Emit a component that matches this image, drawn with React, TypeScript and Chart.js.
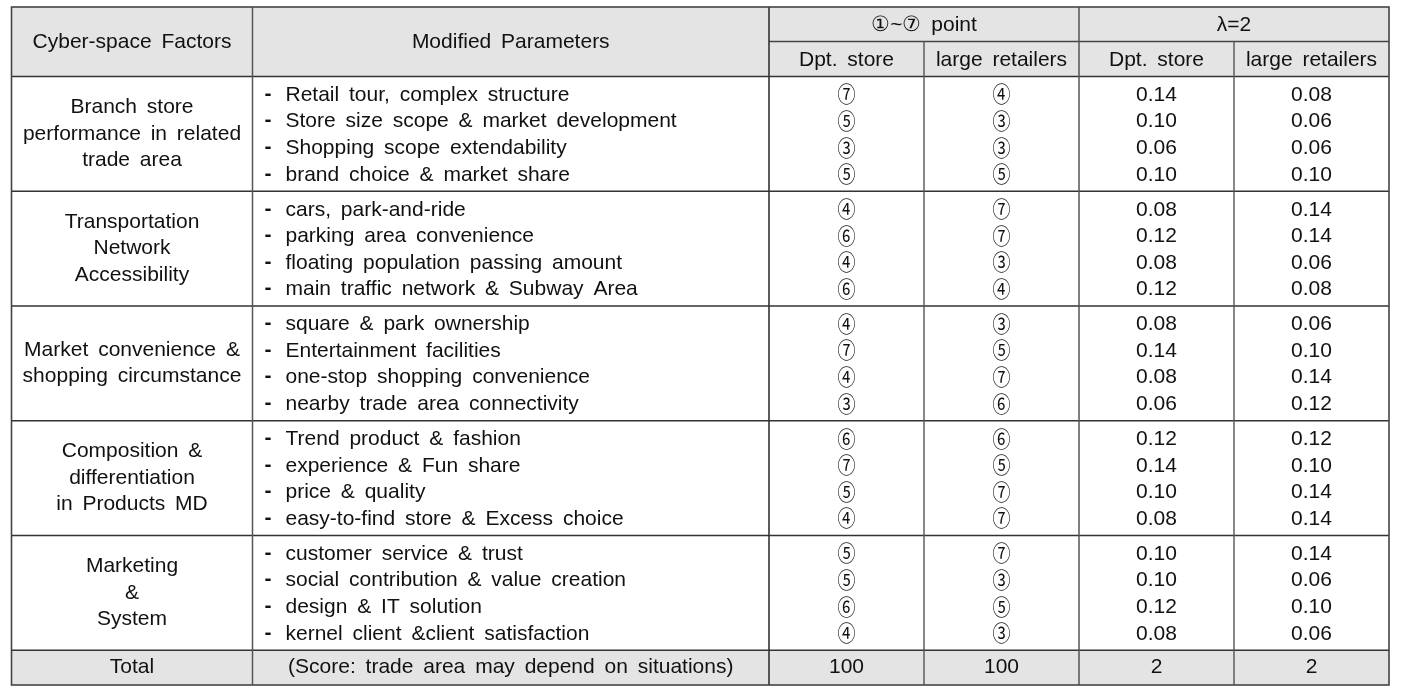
import React, { useEffect, useRef } from "react";
import { Chart, registerables } from "chart.js";

Chart.register(...registerables);

// ---------- data ----------
const headerTop = ["Cyber-space Factors", "Modified Parameters", "①~⑦ point", "λ=2"];
const subHeaders = ["Dpt. store", "large retailers", "Dpt. store", "large retailers"];
const factors = [
  ["Branch store", "performance in related", "trade area"],
  ["Transportation", "Network", "Accessibility"],
  ["Market convenience &", "shopping circumstance"],
  ["Composition &", "differentiation", "in Products MD"],
  ["Marketing", "&", "System"],
];
const parameters = [
  "Retail tour, complex structure",
  "Store size scope & market development",
  "Shopping scope extendability",
  "brand choice & market share",
  "cars, park-and-ride",
  "parking area convenience",
  "floating population passing amount",
  "main traffic network & Subway Area",
  "square & park ownership",
  "Entertainment facilities",
  "one-stop shopping convenience",
  "nearby trade area connectivity",
  "Trend product & fashion",
  "experience & Fun share",
  "price & quality",
  "easy-to-find store & Excess choice",
  "customer service & trust",
  "social contribution & value creation",
  "design & IT solution",
  "kernel client &client satisfaction",
];
const pointDpt = [7, 5, 3, 5, 4, 6, 4, 6, 4, 7, 4, 3, 6, 7, 5, 4, 5, 5, 6, 4];
const pointLarge = [4, 3, 3, 5, 7, 7, 3, 4, 3, 5, 7, 6, 6, 5, 7, 7, 7, 3, 5, 3];
const lambdaDpt = ["0.14", "0.10", "0.06", "0.10", "0.08", "0.12", "0.08", "0.12", "0.08", "0.14", "0.08", "0.06", "0.12", "0.14", "0.10", "0.08", "0.10", "0.10", "0.12", "0.08"];
const lambdaLarge = ["0.08", "0.06", "0.06", "0.10", "0.14", "0.14", "0.06", "0.08", "0.06", "0.10", "0.14", "0.12", "0.12", "0.10", "0.14", "0.14", "0.14", "0.06", "0.10", "0.06"];
const totalLabel = "Total";
const totalNote = "(Score: trade area may depend on situations)";
const totals = ["100", "100", "2", "2"];

const circled = ["①", "②", "③", "④", "⑤", "⑥", "⑦"];

// ---------- layout (in scale units) ----------
const COL = [11.5, 252.5, 769, 924, 1079, 1234, 1389];
const TOP = 7;
const SUB = 41.5;
const HEAD_BOTTOM = 76.5;
const GROUP_H = 114.75;
const ROW_OFF = 18.5;
const ROW_H = 26.6;
const TOTAL_BOTTOM = 685;

const FONT = "'Liberation Sans', Arial, sans-serif";
const FS = 21;

const tablePlugin = {
  id: "tablePlugin",
  afterDraw(chart: any) {
    const ctx: CanvasRenderingContext2D = chart.ctx;
    const xs = chart.scales.x;
    const ys = chart.scales.y;
    const X = (v: number) => xs.getPixelForValue(v);
    const Y = (v: number) => ys.getPixelForValue(v);
    const nGroups = factors.length;
    const groupTop = (g: number) => HEAD_BOTTOM + g * GROUP_H;
    const totalTop = groupTop(nGroups);

    ctx.save();
    ctx.fillStyle = "#e4e4e4";
    ctx.fillRect(X(COL[0]), Y(TOP), X(COL[6]) - X(COL[0]), Y(HEAD_BOTTOM) - Y(TOP));
    ctx.fillRect(X(COL[0]), Y(totalTop), X(COL[6]) - X(COL[0]), Y(TOTAL_BOTTOM) - Y(totalTop));

    const hline = (x1: number, x2: number, y: number, color: string, w: number) => {
      ctx.strokeStyle = color;
      ctx.lineWidth = w;
      ctx.beginPath();
      ctx.moveTo(X(x1), Y(y));
      ctx.lineTo(X(x2), Y(y));
      ctx.stroke();
    };
    const vline = (x: number, y1: number, y2: number, color: string, w: number) => {
      ctx.strokeStyle = color;
      ctx.lineWidth = w;
      ctx.beginPath();
      ctx.moveTo(X(x), Y(y1));
      ctx.lineTo(X(x), Y(y2));
      ctx.stroke();
    };

    hline(COL[2], COL[6], SUB, "#444", 1.5);
    hline(COL[0], COL[6], HEAD_BOTTOM, "#333", 1.6);
    for (let g = 1; g <= nGroups; g++) hline(COL[0], COL[6], groupTop(g), "#333", 1.6);
    vline(COL[1], TOP, TOTAL_BOTTOM, "#555", 1.5);
    vline(COL[2], TOP, TOTAL_BOTTOM, "#333", 1.6);
    vline(COL[3], SUB, TOTAL_BOTTOM, "#555", 1.4);
    vline(COL[4], TOP, TOTAL_BOTTOM, "#555", 1.5);
    vline(COL[5], SUB, TOTAL_BOTTOM, "#555", 1.4);
    ctx.strokeStyle = "#444";
    ctx.lineWidth = 1.6;
    ctx.strokeRect(X(COL[0]), Y(TOP), X(COL[6]) - X(COL[0]), Y(TOTAL_BOTTOM) - Y(TOP));

    ctx.fillStyle = "#111";
    ctx.textBaseline = "middle";
    (ctx as any).wordSpacing = "4px";
    ctx.font = `${FS}px ${FONT}`;
    const mid = (a: number, b: number) => (a + b) / 2;
    const text = (s: string, x: number, y: number, align: CanvasTextAlign) => {
      ctx.textAlign = align;
      ctx.fillText(s, X(x), Y(y));
    };
    const circ = (s: string, x: number, y: number) => {
      ctx.save();
      ctx.font = `22px 'Noto Sans CJK KR', 'DejaVu Sans', sans-serif`;
      ctx.textAlign = "center";
      ctx.translate(X(x), Y(y - 1));
      ctx.scale(0.82, 1);
      ctx.fillText(s, 0, 0);
      ctx.restore();
    };

    text(headerTop[0], mid(COL[0], COL[1]), mid(TOP, HEAD_BOTTOM), "center");
    text(headerTop[1], mid(COL[1], COL[2]), mid(TOP, HEAD_BOTTOM), "center");
    text(headerTop[2], mid(COL[2], COL[4]), mid(TOP, SUB) + 1, "center");
    text(headerTop[3], mid(COL[4], COL[6]), mid(TOP, SUB) + 1, "center");
    for (let i = 0; i < 4; i++) {
      text(subHeaders[i], mid(COL[2 + i], COL[3 + i]), mid(SUB, HEAD_BOTTOM) + 1, "center");
    }

    factors.forEach((lines, g) => {
      const c = mid(groupTop(g), groupTop(g + 1));
      const n = lines.length;
      lines.forEach((ln, k) => {
        text(ln, mid(COL[0], COL[1]), c + (k - (n - 1) / 2) * 26.5, "center");
      });
    });

    parameters.forEach((p, r) => {
      const g = Math.floor(r / 4);
      const i = r % 4;
      const y = groupTop(g) + ROW_OFF + i * ROW_H;
      ctx.font = `bold ${FS}px ${FONT}`;
      text("-", COL[1] + 12, y - 1, "left");
      ctx.font = `${FS}px ${FONT}`;
      text(p, COL[1] + 33, y, "left");
      circ(circled[pointDpt[r] - 1], mid(COL[2], COL[3]), y);
      circ(circled[pointLarge[r] - 1], mid(COL[3], COL[4]), y);
      ctx.font = `${FS}px ${FONT}`;
      text(lambdaDpt[r], mid(COL[4], COL[5]), y, "center");
      text(lambdaLarge[r], mid(COL[5], COL[6]), y, "center");
    });

    const ty = mid(totalTop, TOTAL_BOTTOM);
    ctx.font = `${FS}px ${FONT}`;
    text(totalLabel, mid(COL[0], COL[1]), ty, "center");
    text(totalNote, mid(COL[1], COL[2]), ty, "center");
    totals.forEach((t, i) => text(t, mid(COL[2 + i], COL[3 + i]), ty, "center"));

    ctx.restore();
  },
};

export default function App() {
  const ref = useRef<HTMLCanvasElement | null>(null);
  useEffect(() => {
    if (!ref.current) return;
    const chart = new Chart(ref.current, {
      type: "scatter",
      data: { datasets: [] },
      options: {
        animation: false,
        responsive: true,
        maintainAspectRatio: false,
        layout: { padding: 0 },
        plugins: { legend: { display: false }, tooltip: { enabled: false } },
        scales: {
          x: { type: "linear", min: 0, max: 1409, display: false },
          y: { type: "linear", min: 0, max: 688, reverse: true, display: false },
        },
      },
      plugins: [tablePlugin],
    });
    return () => chart.destroy();
  }, []);
  return (
    <div style={{ position: "fixed", left: 0, top: 0, width: 1409, height: 688, background: "#fff" }}>
      <canvas ref={ref} />
    </div>
  );
}
